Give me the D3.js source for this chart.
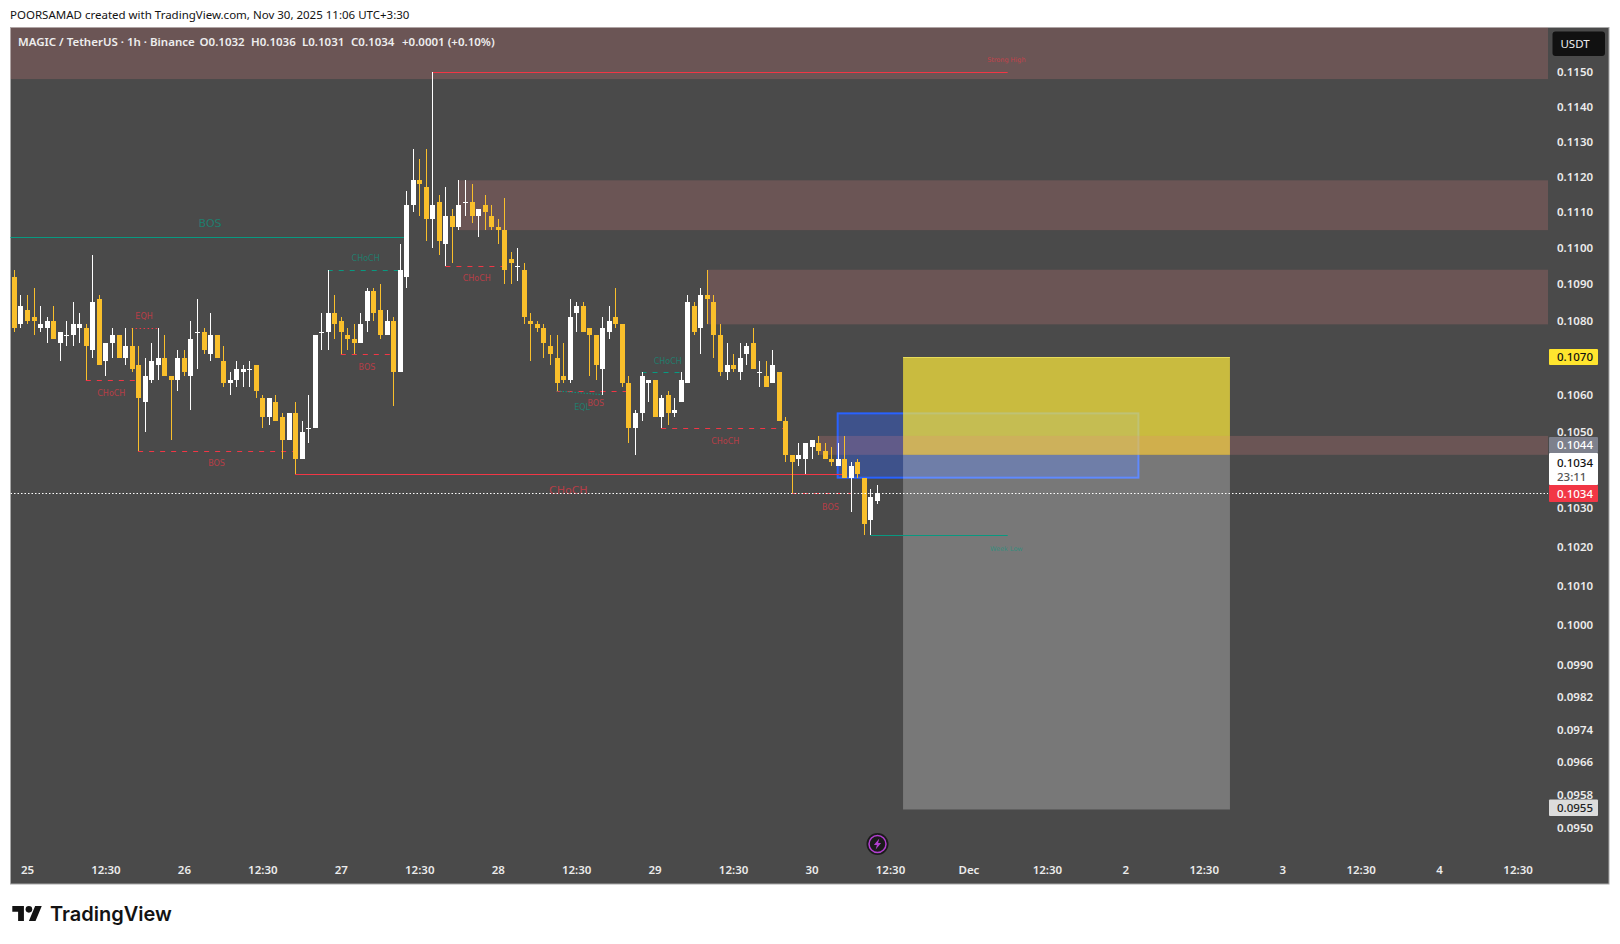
<!DOCTYPE html>
<html>
<head>
<meta charset="utf-8">
<title>MAGIC / TetherUS 1h</title>
<script src="https://cdn.jsdelivr.net/npm/d3@7/dist/d3.min.js"></script>
<style>
  html, body { margin: 0; padding: 0; background: #fff; }
  svg { display: block; }
  text { font-family: "Noto Sans", sans-serif; }
  .struct-label { font-family: "DejaVu Sans", sans-serif; }
  .axis text { fill: #ececec; font-size: 11.5px; font-family: "Noto Sans", sans-serif; font-weight: 600; }
  .axis .domain { display: none; }
</style>
</head>
<body>
<svg id="chart" width="1620" height="944"></svg>
<script>
// candles, one per hour, first one is Nov 24 22:30 (hour -2 from Nov 25 00:30)
const firstHour = -2;
const opens = [
  .1092,.1079,.1083,.1081,.1078,.1078,.1080,.1074,.1076,.1076,
  .1078,.1078,.1072,.1086,.1069,.1074,.1076,.1070,.1073,.1068,
  .1058,.1064,.1068,.1070,.1065,.1064,.1070,.1065,.1077,.1077,
  .1071,.1076,.1069,.1063,.1064,.1066,.1067,.1068,.1059,.1054,
  .1058,.1054,.1048,.1055,.1043,.1051,.1051,.1077,.1077,.1082,
  .1080,.1076,.1075,.1074,.1080,.1088,.1083,.1076,.1080,.1066,
  .1092,.1112,.1119,.1117,.1108,.1113,.1101,.1109,.1106,.1113,
  .1113,.1109,.1112,.1109,.1106,.1105,.1097,.1095,.1094,.1080,
  .1079,.1078,.1073,.1070,.1065,.1064,.1082,.1084,.1078,.1076,
  .1067,.1077,.1081,.1079,.1063,.1051,.1055,.1063,.1064,.1054,
  .1060,.1055,.1058,.1063,.1084,.1078,.1087,.1085,.1076,.1066,
  .1068,.1066,.1071,.1074,.1066,.1065,.1063,.1066,.1053,.1044,
  .1043,.1043,.1046,.1047,.1045,.1043,.1041,.1043,.1038,.1042,
  .1038,.1027,.1032
];
const highs = [
  .1094,.1087,.1087,.1089,.1084,.1081,.1084,.1077,.1080,.1085,
  .1082,.1079,.1098,.1087,.1074,.1078,.1076,.1078,.1078,.1073,
  .1070,.1074,.1078,.1076,.1065,.1072,.1072,.1080,.1086,.1078,
  .1082,.1076,.1073,.1066,.1069,.1068,.1069,.1068,.1060,.1059,
  .1060,.1055,.1055,.1058,.1053,.1060,.1076,.1082,.1094,.1087,
  .1081,.1078,.1079,.1082,.1089,.1089,.1090,.1083,.1081,.1101,
  .1116,.1128,.1125,.1128,.1150,.1115,.1117,.1111,.1119,.1119,
  .1118,.1111,.1115,.1112,.1108,.1114,.1099,.1100,.1096,.1082,
  .1080,.1079,.1076,.1076,.1074,.1086,.1085,.1085,.1078,.1076,
  .1081,.1084,.1089,.1079,.1065,.1056,.1066,.1064,.1064,.1060,
  .1061,.1059,.1066,.1087,.1085,.1089,.1094,.1087,.1079,.1074,
  .1071,.1074,.1074,.1078,.1069,.1069,.1072,.1066,.1054,.1044,
  .1047,.1047,.1048,.1049,.1047,.1046,.1047,.1049,.1042,.1043,
  .1038,.1035,.1036
];
const lows = [
  .1077,.1078,.1079,.1076,.1077,.1074,.1075,.1069,.1073,.1073,
  .1074,.1064,.1070,.1068,.1065,.1070,.1070,.1068,.1066,.1045,
  .1050,.1063,.1064,.1065,.1048,.1061,.1065,.1056,.1067,.1071,
  .1069,.1070,.1062,.1060,.1062,.1062,.1062,.1059,.1051,.1052,
  .1053,.1043,.1048,.1039,.1043,.1047,.1051,.1072,.1072,.1075,
  .1071,.1072,.1071,.1074,.1077,.1080,.1075,.1076,.1057,.1066,
  .1089,.1110,.1109,.1102,.1100,.1098,.1095,.1096,.1105,.1109,
  .1107,.1103,.1105,.1105,.1101,.1090,.1090,.1091,.1079,.1069,
  .1077,.1070,.1068,.1061,.1063,.1063,.1077,.1077,.1065,.1064,
  .1060,.1075,.1078,.1062,.1047,.1044,.1053,.1058,.1054,.1051,
  .1052,.1054,.1058,.1063,.1076,.1071,.1079,.1070,.1065,.1064,
  .1066,.1064,.1068,.1067,.1062,.1062,.1063,.1053,.1042,.1034,
  .1041,.1039,.1043,.1044,.1043,.1041,.1041,.1038,.1029,.1038,
  .1023,.1023,.1031
];
const closes = [
  .1078,.1084,.1080,.1080,.1079,.1080,.1075,.1077,.1076,.1079,
  .1079,.1073,.1085,.1068,.1074,.1076,.1070,.1073,.1067,.1059,
  .1065,.1069,.1070,.1065,.1064,.1070,.1066,.1075,.1077,.1072,
  .1076,.1070,.1063,.1064,.1067,.1067,.1067,.1061,.1054,.1059,
  .1053,.1048,.1055,.1043,.1050,.1051,.1076,.1077,.1082,.1079,
  .1077,.1075,.1074,.1079,.1088,.1082,.1076,.1080,.1066,.1094,
  .1112,.1119,.1118,.1108,.1112,.1102,.1109,.1106,.1112,.1113,
  .1109,.1111,.1110,.1106,.1105,.1094,.1096,.1095,.1081,.1079,
  .1078,.1074,.1071,.1063,.1064,.1081,.1084,.1077,.1076,.1068,
  .1078,.1080,.1079,.1063,.1051,.1055,.1065,.1064,.1054,.1059,
  .1055,.1056,.1064,.1085,.1077,.1087,.1086,.1076,.1066,.1068,
  .1067,.1070,.1073,.1067,.1066,.1062,.1068,.1053,.1044,.1042,
  .1044,.1047,.1048,.1045,.1043,.1042,.1043,.1038,.1041,.1039,
  .1026,.1033,.1034
];

const priceTicks = [.1150,.1140,.1130,.1120,.1110,.1100,.1090,.1080,.1070,.1060,.1050,.1040,.1030,.1020,.1010,.1000,.0990,.0982,.0974,.0966,.0958,.0950];
const priceTicksShown = priceTicks.filter(d => d !== .1040);
const timeTickHours = d3.range(0, 229, 12);
const timeTickLabels = ['25','12:30','26','12:30','27','12:30','28','12:30','29','12:30','30','12:30','Dec','12:30','2','12:30','3','12:30','4','12:30'];

// supply zones: start hour, top and bottom price
const zoneStarts = [-10, 66, 104, 121];
const zoneTops = [.1170, .1119, .1094, .1049];
const zoneBottoms = [.1148, .1105, .1079, .1044];

// structure lines: from hour, to hour, price, style, label
const levelFrom = [9, 16, 17, 46, 64, 48, 81, 94, 97, 117, 41, -10, 62, 129];
const levelTo = [17, 20, 41, 57, 73, 56, 92, 100, 116, 126, 125, 58, 150, 150];
const levelPrice = [.1064, .1078, .1045, .1094, .1095, .1071, .1061, .1066, .1051, .1034, .1039, .1103, .1150, .1023];
const levelKind = ['red-dash','red-dot','red-dash','green-dash','red-dash','red-dash','red-dash','green-dash','red-dash','red-dash','red','green','red','green'];

const labelText = ['CHoCH','EQH','BOS','CHoCH','CHoCH','BOS','BOS','EQL','CHoCH','CHoCH','BOS','CHoCH','BOS','Strong High','Week Low'];
const labelHour = [12.9, 17.9, 29, 51.8, 68.8, 52, 87, 84.9, 98, 106.8, 122.9, 82.8, 28, 149.8, 149.8];
const labelPrice = [.10605, .10811, .10417, .10972, .10917, .10675, .10576, .10566, .10689, .10477, .10304, .10348, .11070, .11536, .10195];
const labelColor = ['red','red','red','green','red','red','red','green','green','red','red','red','green','red','green'];
const labelSize = [8, 8, 8, 8, 8, 8, 8, 8, 8, 8, 8, 11, 11, 6.5, 6.5];

const legendParts = ['MAGIC / TetherUS · 1h · Binance', 'O0.1032', 'H0.1036', 'L0.1031', 'C0.1034', '+0.0001 (+0.10%)'];
const legendX = [18, 199.5, 251, 302, 351, 402];

const plot = { left: 10.5, right: 1548, top: 27.5, bottom: 855, frameRight: 1609, frameBottom: 884 };
const yellow = '#f9bf2b';
const red = '#f23645';
const green = '#089981';

const svg = d3.select('#chart');
const x = d3.scaleLinear().domain([0, 228]).range([27, 1517.6]);
const y = d3.scaleLog().domain([.115, .095]).range([72.2, 828.2]);

// frame
svg.append('rect')
  .attr('x', plot.left).attr('y', plot.top)
  .attr('width', plot.frameRight - plot.left).attr('height', plot.frameBottom - plot.top)
  .attr('fill', '#4a4a4a').attr('stroke', '#a8a8a8');

svg.append('clipPath').attr('id', 'plot-clip').append('rect')
  .attr('x', plot.left).attr('y', plot.top)
  .attr('width', plot.right - plot.left).attr('height', plot.frameBottom - plot.top);

const g = svg.append('g').attr('clip-path', 'url(#plot-clip)');

function addBox(h0, h1, p0, p1) {
  return g.append('rect')
    .attr('x', x(h0)).attr('width', x(h1) - x(h0))
    .attr('y', y(p0)).attr('height', y(p1) - y(p0));
}

// order block, position tool
addBox(124, 170, .1055, .1038)
  .attr('fill', '#2962ff').attr('fill-opacity', .36)
  .attr('stroke', '#2962ff').attr('stroke-width', 2);
addBox(134, 184, .1044, .09545).attr('fill', '#fff').attr('fill-opacity', .255);
addBox(134, 184, .1070, .1044).attr('fill', '#ffeb3b').attr('fill-opacity', .7);
g.append('line')
  .attr('x1', x(134)).attr('x2', x(184)).attr('y1', y(.1070)).attr('y2', y(.1070))
  .attr('stroke', '#e8dc5a');

// zones run to the price axis
g.selectAll('.zone').data(zoneStarts).enter().append('rect')
  .attr('class', 'zone')
  .attr('x', d => x(d))
  .attr('width', d => plot.right - x(d))
  .attr('y', (d, i) => y(zoneTops[i]))
  .attr('height', (d, i) => y(zoneBottoms[i]) - y(zoneTops[i]))
  .attr('fill', '#f08080').attr('fill-opacity', .2);

// structure lines
g.selectAll('.level').data(levelPrice).enter().append('line')
  .attr('class', 'level')
  .attr('x1', (d, i) => x(levelFrom[i]))
  .attr('x2', (d, i) => x(levelTo[i]))
  .attr('y1', d => Math.round(y(d)) + .5)
  .attr('y2', d => Math.round(y(d)) + .5)
  .attr('stroke', (d, i) => levelKind[i].startsWith('red') ? red : green)
  .attr('stroke-dasharray', (d, i) => levelKind[i].endsWith('dash') ? '5 6' : levelKind[i].endsWith('dot') ? '1.5 2.5' : null);

// the equal lows are slightly sloped
g.append('line')
  .attr('x1', x(81)).attr('x2', x(88)).attr('y1', y(.1061)).attr('y2', y(.1060))
  .attr('stroke', green).attr('stroke-dasharray', '1.5 1.5');

g.selectAll('.struct-label').data(labelText).enter().append('text')
  .attr('class', 'struct-label')
  .attr('x', (d, i) => x(labelHour[i]))
  .attr('y', (d, i) => y(labelPrice[i]))
  .attr('dy', '.35em')
  .attr('text-anchor', 'middle')
  .attr('font-size', (d, i) => labelSize[i])
  .attr('fill', (d, i) => labelColor[i] === 'red' ? red : green)
  .attr('fill-opacity', .65)
  .text(d => d);

// candles
const candles = opens.map((o, i) => ({ hour: firstHour + i, o, h: highs[i], l: lows[i], c: closes[i] }));
const candleG = g.selectAll('.candle').data(candles).enter().append('g').attr('class', 'candle')
  .attr('fill', d => d.c >= d.o ? '#fff' : yellow);

candleG.append('rect')
  .attr('x', d => Math.round(x(d.hour)))
  .attr('width', 1)
  .attr('y', d => Math.round(y(d.h)))
  .attr('height', d => Math.max(1, Math.round(y(d.l)) - Math.round(y(d.h))));

candleG.append('rect')
  .attr('x', d => Math.round(x(d.hour)) - 2)
  .attr('width', 5)
  .attr('y', d => Math.round(y(Math.max(d.o, d.c))))
  .attr('height', d => Math.max(1, Math.round(y(Math.min(d.o, d.c))) - Math.round(y(Math.max(d.o, d.c)))));

// last price line
g.append('line')
  .attr('x1', plot.left).attr('x2', plot.right)
  .attr('y1', Math.round(y(.1034)) + .5).attr('y2', Math.round(y(.1034)) + .5)
  .attr('stroke', '#fff').attr('stroke-dasharray', '1.5 2');

// price axis
const yAxis = d3.axisRight(y).tickValues(priceTicksShown).tickSize(0).tickPadding(9).tickFormat(d3.format('.4f'));
svg.append('g').attr('class', 'axis').attr('transform', `translate(${plot.right},0)`).call(yAxis);

// time axis
const xAxis = d3.axisBottom(x).tickValues(timeTickHours).tickSize(0).tickPadding(11).tickFormat((d, i) => timeTickLabels[i]);
svg.append('g').attr('class', 'axis').attr('transform', `translate(0,${plot.bottom})`).call(xAxis);

// price tags on the axis
function priceTag(top, bottom, fill, lines) {
  svg.append('rect')
    .attr('x', 1549).attr('width', 49).attr('y', top).attr('height', bottom - top)
    .attr('fill', fill).attr('rx', 1);
  lines.forEach(l => {
    svg.append('text').attr('x', 1557).attr('y', l.y).attr('dy', '.35em')
      .attr('font-size', 11.5).attr('font-weight', 500)
      .attr('fill', l.color).text(l.text);
  });
}
priceTag(349, 365, '#ffe52e', [{ y: 357, text: '0.1070', color: '#111' }]);
priceTag(437, 453, '#7d808c', [{ y: 445, text: '0.1044', color: '#fff' }]);
priceTag(453, 485, '#fff', [{ y: 463, text: '0.1034', color: '#111' }, { y: 477, text: '23:11', color: '#555' }]);
priceTag(485, 502, red, [{ y: 493.5, text: '0.1034', color: '#fff' }]);
priceTag(799.5, 816, '#dcdcdc', [{ y: 807.5, text: '0.0955', color: '#222' }]);

// currency button
svg.append('rect').attr('x', 1552.5).attr('y', 31.5).attr('width', 52.5).attr('height', 24.5).attr('rx', 3).attr('fill', '#111');
svg.append('text').attr('x', 1575).attr('y', 44).attr('dy', '.35em').attr('text-anchor', 'middle')
  .attr('fill', '#eee').attr('font-size', 11.5).text('USDT');

// header + legend
svg.append('text').attr('x', 10).attr('y', 19).attr('font-size', 11.5).attr('fill', '#131313')
  .text('POORSAMAD created with TradingView.com, Nov 30, 2025 11:06 UTC+3:30');
svg.selectAll('.legend').data(legendParts).enter().append('text')
  .attr('class', 'legend')
  .attr('x', (d, i) => legendX[i]).attr('y', 46)
  .attr('font-size', 11.5).attr('font-weight', 600).attr('fill', '#eeeeee')
  .text(d => d);

// lightning badge
const badge = svg.append('g').attr('transform', 'translate(877.5,844)');
badge.append('circle').attr('r', 11).attr('fill', '#1b1b1b');
badge.append('circle').attr('r', 8.5).attr('fill', 'none').attr('stroke', '#b23fd0').attr('stroke-width', 1.5);
badge.append('path').attr('d', 'M1.8,-5.5 L-3.6,1 L-0.6,1 L-1.8,5.5 L3.6,-1 L0.6,-1 Z').attr('fill', '#b23fd0');

// logo
svg.append('path')
  .attr('transform', 'translate(12.3,902.7) scale(.83)')
  .attr('d', 'M14 22H7V11H0V4h14v18zM28 22h-8l7.5-18h8L28 22z').attr('fill', '#131313');
svg.append('circle').attr('cx', 12.3 + 20 * .83).attr('cy', 902.7 + 8 * .83).attr('r', 3.3).attr('fill', '#131313');
svg.append('text').attr('x', 50).attr('y', 921).attr('font-size', 20).attr('font-weight', 600)
  .attr('fill', '#131313').style('font-family', 'Inter, sans-serif').text('TradingView');
</script>
</body>
</html>
